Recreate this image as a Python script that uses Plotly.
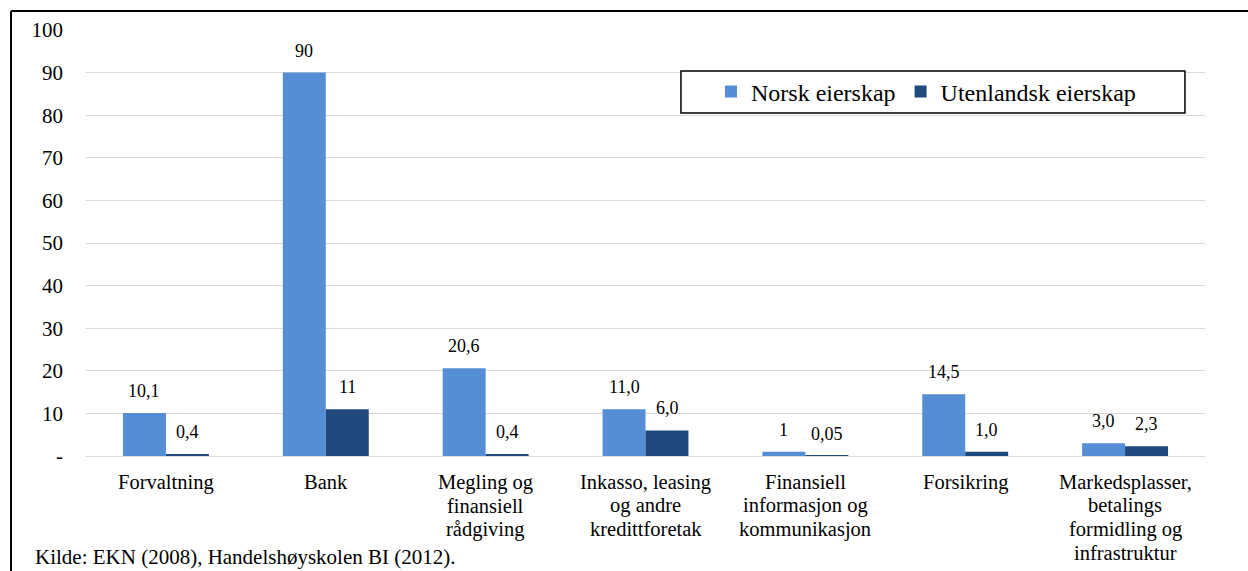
import plotly.graph_objects as go

# Categories (line breaks kept as separate lines) and values per ownership type
categories = [
    "Forvaltning",
    "Bank",
    "Megling og|finansiell|rådgiving",
    "Inkasso, leasing|og andre|kredittforetak",
    "Finansiell|informasjon og|kommunikasjon",
    "Forsikring",
    "Markedsplasser,|betalings|formidling og|infrastruktur",
]
norsk = [10.1, 90, 20.6, 11.0, 1, 14.5, 3.0]
norsk_labels = ["10,1", "90", "20,6", "11,0", "1", "14,5", "3,0"]
utenlandsk = [0.4, 11, 0.4, 6.0, 0.05, 1.0, 2.3]
utenlandsk_labels = ["0,4", "11", "0,4", "6,0", "0,05", "1,0", "2,3"]

y_ticks = [0, 10, 20, 30, 40, 50, 60, 70, 80, 90, 100]
y_ticktext = ["-", "10", "20", "30", "40", "50", "60", "70", "80", "90", "100"]

FONT = "Liberation Serif, Times New Roman, serif"
BAR_HALF = 21.5  # half of one bar's width in px, for centring value labels

fig = go.Figure()
fig.add_trace(go.Bar(
    name="Norsk eierskap", x=categories, y=norsk,
    marker=dict(color="#558ed5", line=dict(width=0)),
))
fig.add_trace(go.Bar(
    name="Utenlandsk eierskap", x=categories, y=utenlandsk,
    marker=dict(color="#1f497d", line=dict(width=0)),
))

annotations = []
# value labels above each bar
for cat, v, lab in zip(categories, norsk, norsk_labels):
    annotations.append(dict(x=cat, y=v, xref="x", yref="y", text=lab,
                            xshift=-BAR_HALF, yshift=22, showarrow=False,
                            xanchor="center", yanchor="middle",
                            font=dict(size=18, family=FONT, color="black")))
for cat, v, lab in zip(categories, utenlandsk, utenlandsk_labels):
    annotations.append(dict(x=cat, y=v, xref="x", yref="y", text=lab,
                            xshift=BAR_HALF, yshift=22, showarrow=False,
                            xanchor="center", yanchor="middle",
                            font=dict(size=18, family=FONT, color="black")))
# category labels, one annotation per line for tight line spacing
for cat in categories:
    for i, line in enumerate(cat.split("|")):
        annotations.append(dict(x=cat, y=0, xref="x", yref="paper", text=line,
                                yshift=-26 - 23.5 * i, showarrow=False,
                                xanchor="center", yanchor="middle",
                                font=dict(size=20.5, family=FONT, color="black")))
annotations.append(dict(text="Kilde: EKN (2008), Handelshøyskolen BI (2012).",
                        xref="paper", yref="paper", x=-0.0475, y=-0.237,
                        xanchor="left", yanchor="middle", showarrow=False,
                        font=dict(size=21, family=FONT, color="black")))

fig.update_layout(
    width=1248, height=571,
    margin=dict(l=86, r=43, t=30, b=115),
    paper_bgcolor="white", plot_bgcolor="white",
    font=dict(family=FONT, color="black"),
    barmode="group", bargap=0.4625, bargroupgap=0,
    showlegend=True,
    legend=dict(
        orientation="h", x=0.5585, y=0.8545, xanchor="left", yanchor="middle",
        borderwidth=0, bgcolor="rgba(0,0,0,0)",
        font=dict(size=24, family=FONT, color="black"),
        itemwidth=30,
    ),
    xaxis=dict(
        showgrid=False, showline=False, ticks="", showticklabels=False,
    ),
    yaxis=dict(
        range=[0, 100], tickvals=y_ticks, ticktext=y_ticktext,
        showgrid=True, gridcolor="#d9d9d9", gridwidth=1,
        zeroline=True, zerolinecolor="#d9d9d9", zerolinewidth=1,
        showline=False, ticks="", ticklabelstandoff=22,
        tickfont=dict(size=21, family=FONT),
    ),
    shapes=[
        # frame around the chart (left and top edges)
        dict(type="line", xref="paper", yref="paper",
             x0=-0.067, y0=1.0446, x1=1.04, y1=1.0446,
             line=dict(color="black", width=2)),
        dict(type="line", xref="paper", yref="paper",
             x0=-0.067, y0=1.0446, x1=-0.067, y1=-0.3,
             line=dict(color="black", width=2)),
        # legend frame
        dict(type="rect", xref="paper", yref="paper", layer="above",
             x0=0.5317, x1=0.9821, y0=0.8052, y1=0.9038,
             fillcolor="white", line=dict(color="black", width=1.5)),
    ],
    annotations=annotations,
)

fig.write_html("out.html")
